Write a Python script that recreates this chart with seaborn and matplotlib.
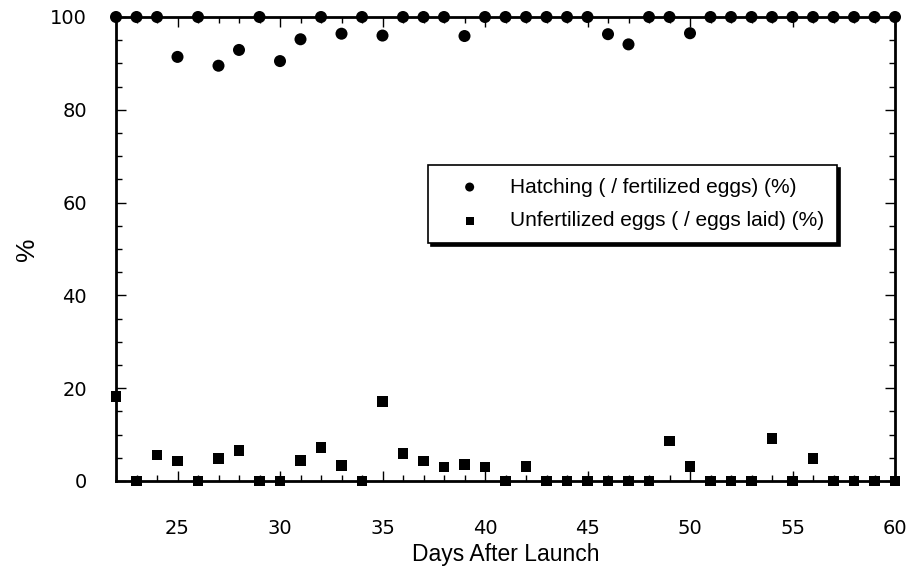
import numpy as np
import pandas as pd
import matplotlib
matplotlib.use("Agg")
import matplotlib.pyplot as plt
import seaborn as sns
from matplotlib.ticker import MultipleLocator

# Data
days = list(range(22, 61))
hatching = [100, 100, 100, 91.4, 100, 89.5, 92.9, 100, 90.5, 95.2,
            100, 96.4, 100, 96.0, 100, 100, 100, 95.9, 100, 100,
            100, 100, 100, 100, 96.3, 94.1, 100, 100, 96.5, 100,
            100, 100, 100, 100, 100, 100, 100, 100, 100]
unfertilized = [18.2, 0, 5.6, 4.3, 0, 4.9, 6.5, 0, 0, 4.4,
                7.3, 3.4, 0, 17.1, 6.0, 4.3, 3.0, 3.5, 3.0, 0,
                3.1, 0, 0, 0, 0, 0, 0, 8.6, 3.1, 0,
                0, 0, 9.2, 0, 4.9, 0, 0, 0, 0]
label_hatch = "Hatching ( / fertilized eggs) (%)"
label_unfert = "Unfertilized eggs ( / eggs laid) (%)"

sns.set_theme(style="ticks")
plt.rcParams["font.family"] = ["Liberation Sans", "DejaVu Sans"]

fig = plt.figure(figsize=(9.08, 5.69), dpi=100)
ax = fig.add_axes([116 / 908, 1 - 481 / 569, (895 - 116) / 908, (481 - 17) / 569])

sns.scatterplot(x=days, y=hatching, color="black", marker="o", s=75,
                edgecolor="none", clip_on=False, zorder=3, label=label_hatch, ax=ax)
sns.scatterplot(x=days, y=unfertilized, color="black", marker="s", s=60,
                edgecolor="none", clip_on=False, zorder=3, label=label_unfert, ax=ax)

ax.set_xlim(22, 60)
ax.set_ylim(0, 100)
ax.set_xticks(range(25, 61, 5))
ax.xaxis.set_minor_locator(MultipleLocator(1))
ax.yaxis.set_major_locator(MultipleLocator(20))
ax.yaxis.set_minor_locator(MultipleLocator(5))
ax.tick_params(which="both", direction="in", top=True, right=True,
               width=1, color="black", labelcolor="black", labelsize=14,
               labelfontfamily="DejaVu Sans")
ax.tick_params(which="major", length=7)
ax.tick_params(which="minor", length=4)
ax.tick_params(axis="x", which="major", pad=27)
ax.tick_params(axis="y", which="major", pad=21)
for sp in ax.spines.values():
    sp.set_linewidth(2)
    sp.set_color("black")
    sp.set_visible(True)

ax.set_xlabel("Days After Launch", fontsize=16.5, labelpad=4, color="black")
ax.set_ylabel("%", fontsize=19, labelpad=8, color="black")

leg = ax.legend(loc="upper left", bbox_to_anchor=(0.4005, 0.681), frameon=True,
                fancybox=False, edgecolor="black", fontsize=15,
                shadow={"color": "black", "alpha": 1, "ox": 2.5, "oy": -2.5},
                handlelength=2.8, handletextpad=0.55, borderpad=0.6,
                labelspacing=0.7, markerscale=0.75, borderaxespad=0)
leg.get_frame().set_linewidth(1.2)
for t in leg.get_texts():
    t.set_color("black")

fig.savefig("out.png", dpi=100)
